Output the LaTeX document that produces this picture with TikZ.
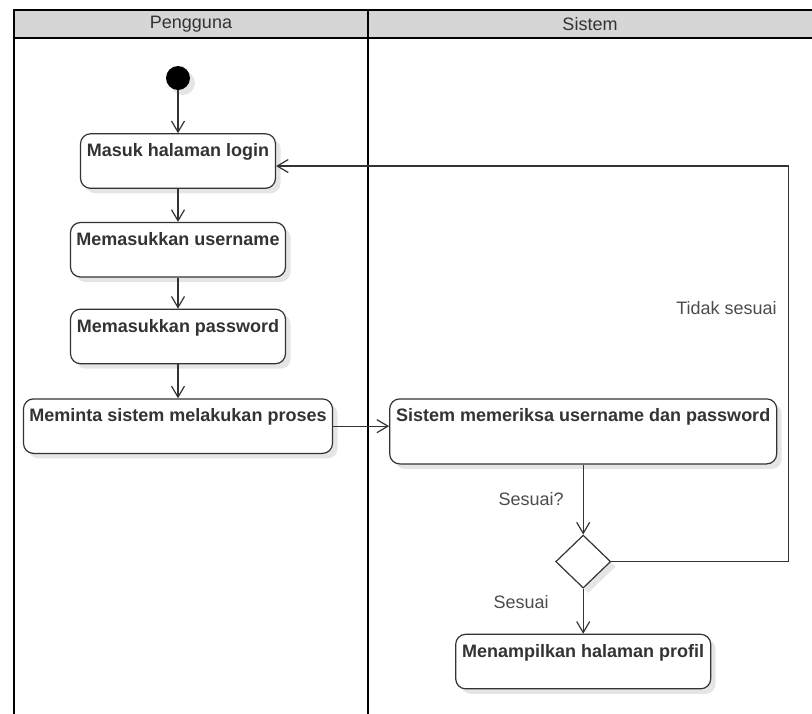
\documentclass[tikz,border=0pt]{standalone}
\usepackage{fontspec}
\setmainfont{Liberation Sans}
\usetikzlibrary{shapes.geometric, arrows.meta, positioning, calc, shadows}
\definecolor{garis}{HTML}{333333}
\definecolor{kepala}{HTML}{D6D6D6}

\begin{document}
\begin{tikzpicture}[x=1pt, y=-1pt, node distance=33pt,
        bayang/.style={drop shadow={shadow xshift=5pt, shadow yshift=-5pt, fill=black!10, opacity=1}},
        act/.style={draw=garis, line width=1.2pt, rectangle, rounded corners=10pt, fill=white, text=garis, font=\fontsize{18}{21}\selectfont\bfseries, minimum width=#1, text height=19pt, text depth=27.5pt, inner sep=4pt, align=center, bayang},
        keputusan/.style={diamond, draw=garis, line width=1.2pt, fill=white, minimum width=55pt, minimum height=53pt, inner sep=0pt, bayang},
        mulaistyle/.style={circle, fill=black, minimum size=24pt, inner sep=0pt, bayang},
        lbl/.style={text=black!70, font=\fontsize{18}{21}\selectfont, inner sep=2pt},
        judul/.style={text=garis, font=\fontsize{18}{21}\selectfont},
        lane/.style={line width=2.5pt, draw=black},
        arrow/.style={-{Straight Barb[length=11pt, width=13pt]}, draw=garis, line width=1.2pt}
    ]
        \useasboundingbox (0,0) rectangle (812,713);
        \clip (0,0) rectangle (812,713);

        % Swimlane
        \fill[kepala] (14,10) rectangle (830,38);
        \draw[lane] (830,10) -- (14,10) -- (14,730);
        \draw[lane] (14,38) -- (830,38);
        \draw[lane] (368,10) -- (368,730);
        \node[judul] (pengguna) at (191,24) {Pengguna};
        \node[judul] (sistem) at (590,24) {Sistem};

        % Aktivitas pengguna
        \node[mulaistyle] (mulai) at (178,78) {};
        \node[act=195pt, below=43pt of mulai] (login) {Masuk halaman login};
        \node[act=215pt, below=33pt of login] (user) {Memasukkan username};
        \node[act=215pt, below=31pt of user] (pass) {Memasukkan password};
        \node[act=309pt, below=34pt of pass] (minta) {Meminta sistem melakukan proses};

        % Aktivitas sistem
        \node[act=387pt, text depth=38pt, right=56pt of minta.north east, anchor=north west] (cek) {Sistem memeriksa username dan password};
        \node[keputusan, below=70pt of cek] (dec) {};
        \node[act=255pt, below=45pt of dec] (profil) {Menampilkan halaman profil};

        % Koneksi
        \draw[arrow] (mulai) -- (login);
        \draw[arrow] (login) -- (user);
        \draw[arrow] (user) -- (pass);
        \draw[arrow] (pass) -- (minta);
        \draw[arrow] (minta.east) -- (minta.east -| cek.west);
        \draw[arrow] (cek) -- node[midway, left=17pt, lbl] {Sesuai?} (dec);
        \draw[arrow] (dec) -- node[pos=0.3, left=32pt, lbl] {Sesuai} (profil);

        % Kembali ke login
        \coordinate (balik) at ($(cek.east)+(11pt,0)$);
        \draw[arrow] (dec.east) -| node[pos=0.82, left=9pt, lbl] {Tidak sesuai} ([yshift=-5pt]balik |- login.east) -- ([yshift=-5pt]login.east);
    \end{tikzpicture}
\end{document}
